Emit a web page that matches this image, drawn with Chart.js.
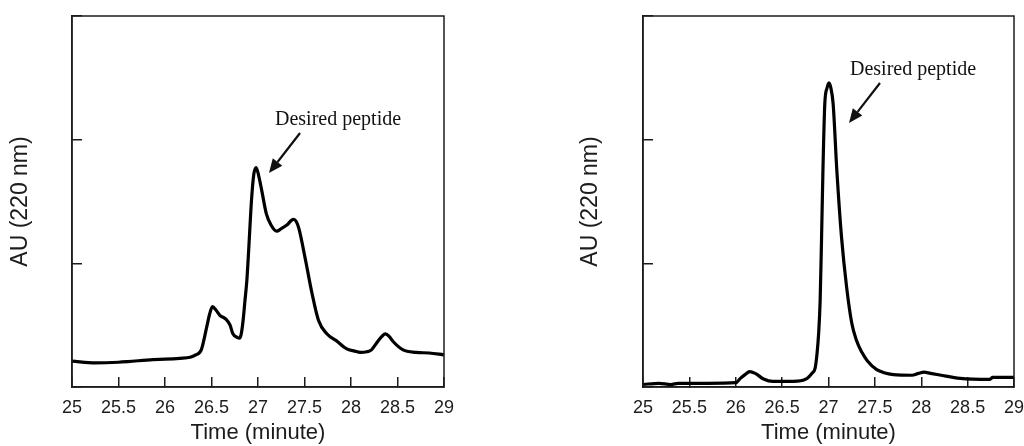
<!DOCTYPE html>
<html>
<head>
<meta charset="utf-8">
<script src="https://cdn.jsdelivr.net/npm/chart.js@4.4.1/dist/chart.umd.min.js"></script>
<style>
  html, body { margin: 0; padding: 0; background: #fff; }
  #wrap { position: relative; width: 1024px; height: 446px; }
  #wrap canvas { position: absolute; top: 0; }
</style>
</head>
<body>
<div id="wrap">
  <canvas id="crude" width="512" height="446" style="left:0"></canvas>
  <canvas id="purified" width="512" height="446" style="left:512px"></canvas>
</div>
<script>
// Crude product trace (time in minutes, absorbance in AU)
const crudeTime = [25.00, 25.25, 25.50, 25.60, 25.87, 26.00, 26.16, 26.27, 26.33, 26.39, 26.45, 26.48, 26.51,
  26.55, 26.59, 26.66, 26.70, 26.73, 26.78, 26.80, 26.82, 26.84, 26.86, 26.88, 26.90, 26.93, 26.955, 26.98,
  27.01, 27.04, 27.09, 27.14, 27.20, 27.25, 27.31, 27.38, 27.41, 27.44, 27.51, 27.58, 27.65, 27.74, 27.85,
  27.95, 28.04, 28.10, 28.17, 28.22, 28.27, 28.31, 28.37, 28.41, 28.45, 28.56, 28.70, 28.84, 29.00];
const crudeAbs = [0.210, 0.195, 0.200, 0.205, 0.222, 0.225, 0.232, 0.240, 0.260, 0.300, 0.490, 0.590, 0.650,
  0.620, 0.580, 0.545, 0.500, 0.430, 0.400, 0.395, 0.430, 0.540, 0.700, 0.860, 1.110, 1.510, 1.720, 1.775,
  1.700, 1.590, 1.400, 1.310, 1.260, 1.280, 1.310, 1.355, 1.340, 1.280, 1.030, 0.760, 0.540, 0.430, 0.370,
  0.310, 0.290, 0.280, 0.285, 0.300, 0.350, 0.390, 0.430, 0.410, 0.370, 0.300, 0.280, 0.275, 0.260];

// Purified product trace
const pureTime = [25.00, 25.17, 25.30, 25.38, 25.70, 26.00, 26.05, 26.10, 26.15, 26.21, 26.30, 26.40, 26.62,
  26.76, 26.82, 26.855, 26.875, 26.895, 26.91, 26.925, 26.94, 26.96, 26.985, 27.005, 27.025, 27.05, 27.09,
  27.14, 27.195, 27.25, 27.30, 27.36, 27.42, 27.52, 27.60, 27.70, 27.90, 27.97, 28.03, 28.10, 28.20, 28.42,
  28.74, 28.77, 29.00];
const pureAbs = [0.020, 0.030, 0.020, 0.030, 0.030, 0.035, 0.070, 0.100, 0.125, 0.110, 0.065, 0.045, 0.045,
  0.065, 0.110, 0.150, 0.260, 0.450, 0.700, 1.200, 1.750, 2.290, 2.420, 2.460, 2.420, 2.290, 1.750,
  1.215, 0.810, 0.520, 0.380, 0.280, 0.210, 0.140, 0.115, 0.100, 0.095, 0.110, 0.120, 0.110, 0.097, 0.070,
  0.062, 0.078, 0.078];

// Axis ticks
const timeTicks = [25, 25.5, 26, 26.5, 27, 27.5, 28, 28.5, 29];
const timeTickLabels = ['25', '25.5', '26', '26.5', '27', '27.5', '28', '28.5', '29'];
const auTicks = [0, 1, 2, 3];

const peakLabel = 'Desired peptide';
const xTitle = 'Time (minute)';
const yTitle = 'AU (220 nm)';

const INK = '#1c1c1c';

// Closed frame around the plot area
const framePlugin = {
  id: 'frame',
  afterDraw(chart) {
    const { ctx, chartArea: a } = chart;
    ctx.save();
    ctx.strokeStyle = INK;
    ctx.lineWidth = 1.5;
    ctx.strokeRect(a.left, a.top, a.right - a.left, a.bottom - a.top);
    ctx.restore();
  }
};

// Label with an arrow pointing at a peak, placed in data units
const calloutPlugin = {
  id: 'callout',
  afterDatasetsDraw(chart, args, opts) {
    if (!opts || !opts.tip) return;
    const { ctx, scales: { x, y } } = chart;
    const px = p => [x.getPixelForValue(p[0]), y.getPixelForValue(p[1])];
    const [tx, ty] = px(opts.tip);
    const [sx, sy] = px(opts.tail);
    const [lx, ly] = px(opts.text);
    ctx.save();
    ctx.fillStyle = '#111';
    ctx.font = '20px "Liberation Serif", "Times New Roman", serif';
    ctx.textAlign = 'left';
    ctx.textBaseline = 'alphabetic';
    ctx.fillText(opts.label, lx, ly);

    const ang = Math.atan2(ty - sy, tx - sx);
    const headLen = 14, headHalf = 6;
    const bx = tx - headLen * Math.cos(ang), by = ty - headLen * Math.sin(ang);
    ctx.strokeStyle = '#111';
    ctx.lineWidth = 2.2;
    ctx.beginPath();
    ctx.moveTo(sx, sy);
    ctx.lineTo(bx, by);
    ctx.stroke();
    ctx.beginPath();
    ctx.moveTo(tx, ty);
    ctx.lineTo(bx + headHalf * Math.sin(ang), by - headHalf * Math.cos(ang));
    ctx.lineTo(bx - headHalf * Math.sin(ang), by + headHalf * Math.cos(ang));
    ctx.closePath();
    ctx.fill();
    ctx.restore();
  }
};

function makeChart(id, times, values, yAxisWidth, padRight, yTitlePad, callout) {
  const pts = times.map((t, i) => ({ x: t, y: values[i] }));
  const gridOpts = { drawOnChartArea: false, drawTicks: true, tickLength: -10, color: INK, lineWidth: 1.5 };
  const borderOpts = { display: true, color: INK, width: 1.5 };
  return new Chart(document.getElementById(id), {
    type: 'line',
    data: {
      datasets: [{
        data: pts,
        borderColor: '#000',
        borderWidth: 3.2,
        pointRadius: 0,
        fill: false,
        cubicInterpolationMode: 'monotone',
        borderJoinStyle: 'round'
      }]
    },
    options: {
      responsive: false,
      animation: false,
      events: [],
      layout: { padding: { top: 16, right: padRight, bottom: 0, left: 0 } },
      plugins: {
        legend: { display: false },
        tooltip: { enabled: false },
        callout: callout
      },
      scales: {
        x: {
          type: 'linear',
          min: 25, max: 29,
          afterBuildTicks: s => { s.ticks = timeTicks.map(v => ({ value: v })); },
          afterFit: s => { s.height = 59; s.paddingLeft = 0; s.paddingRight = 0; },
          ticks: {
            autoSkip: false, maxRotation: 0, minRotation: 0, padding: 20, color: INK,
            font: { family: '"Liberation Sans", Arial, sans-serif', size: 18 },
            callback: (v, i) => timeTickLabels[i]
          },
          grid: gridOpts,
          border: borderOpts,
          title: {
            display: true, text: xTitle, color: INK,
            font: { family: '"Liberation Sans", Arial, sans-serif', size: 22 },
            padding: { top: 0, bottom: 0 }
          }
        },
        y: {
          min: 0, max: 3,
          afterBuildTicks: s => { s.ticks = auTicks.map(v => ({ value: v })); },
          afterFit: s => { s.width = yAxisWidth; s.paddingTop = 0; s.paddingBottom = 0; },
          ticks: { display: false },
          grid: gridOpts,
          border: borderOpts,
          title: {
            display: true, text: yTitle, color: INK,
            font: { family: '"Liberation Sans", Arial, sans-serif', size: 23 },
            padding: { top: yTitlePad, bottom: 0 }
          }
        }
      }
    },
    plugins: [framePlugin, calloutPlugin]
  });
}

makeChart('crude', crudeTime, crudeAbs, 72, 68, 7, {
  label: peakLabel, tip: [27.118, 1.73], tail: [27.452, 2.054], text: [27.183, 2.119]
});
makeChart('purified', pureTime, pureAbs, 131, 10, 65, {
  label: peakLabel, tip: [27.221, 2.135], tail: [27.555, 2.458], text: [27.232, 2.523]
});
</script>
</body>
</html>
